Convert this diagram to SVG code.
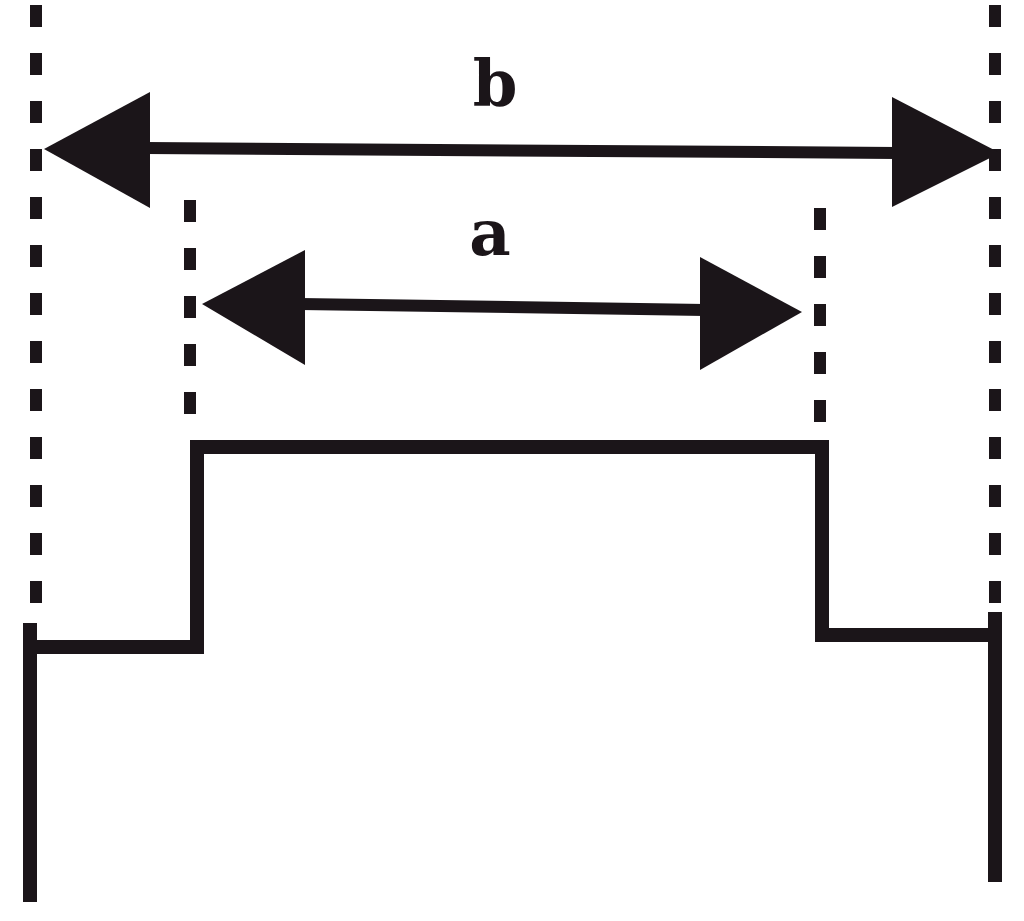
<svg xmlns="http://www.w3.org/2000/svg" width="1024" height="921" viewBox="0 0 1024 921">
<style>
.dash{stroke:#1b1519;stroke-width:12;stroke-dasharray:22 26;fill:none}
.solid{stroke:#1b1519;stroke-width:14;fill:none;stroke-linejoin:miter}
.shaft{stroke:#1b1519;stroke-width:12;fill:none}
.head{fill:#1b1519}
.lbl{font-family:"DejaVu Serif","Liberation Serif",serif;font-weight:bold;font-size:64px;fill:#1b1519;text-anchor:middle}
</style>
<rect width="1024" height="921" fill="#ffffff"/>
<g id="guides">
<line class="dash" x1="36" y1="5" x2="36" y2="603"/>
<line class="dash" x1="995" y1="5" x2="995" y2="603"/>
<line class="dash" x1="190" y1="200" x2="190" y2="420"/>
<line class="dash" x1="820" y1="208" x2="820" y2="424"/>
</g>
<g id="profile">
<path class="solid" d="M30,623 V902"/>
<path class="solid" d="M30,647 H197 V447 H822 V635 H995"/>
<path class="solid" d="M995,612 V882"/>
</g>
<g id="connectors">
<g id="arrow-b">
<line class="shaft" x1="145" y1="148" x2="897" y2="153"/>
<polygon class="head" points="44,149 150,92 150,208"/>
<polygon class="head" points="1000,153 892,97 892,207"/>
</g>
<g id="arrow-a">
<line class="shaft" x1="300" y1="304" x2="705" y2="310"/>
<polygon class="head" points="202,304 305,250 305,365"/>
<polygon class="head" points="802,312 700,257 700,370"/>
</g>
</g>
<g id="label-b"><text class="lbl" x="495" y="105">b</text></g>
<g id="label-a"><text class="lbl" x="490" y="255">a</text></g>
</svg>
